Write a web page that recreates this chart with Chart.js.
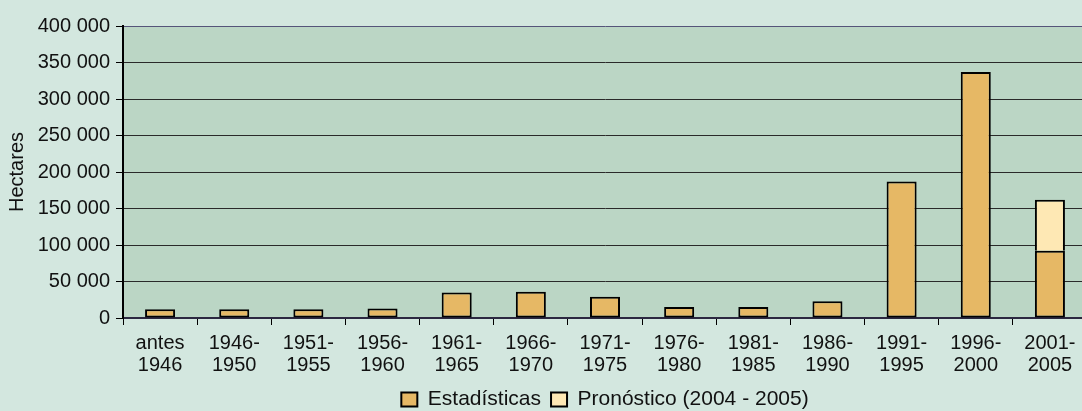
<!DOCTYPE html>
<html>
<head>
<meta charset="utf-8">
<script src="https://cdn.jsdelivr.net/npm/chart.js@4.4.1/dist/chart.umd.min.js"></script>
<style>
  html, body { margin: 0; padding: 0; background: #d3e7df; overflow: hidden; }
  #wrap { width: 1090px; height: 411px; }
</style>
</head>
<body>
<div id="wrap"><canvas id="chart" width="1090" height="411"></canvas></div>
<script>
/* Data (hectares per period) */
const periods = [
  ['antes', '1946'], ['1946-', '1950'], ['1951-', '1955'], ['1956-', '1960'],
  ['1961-', '1965'], ['1966-', '1970'], ['1971-', '1975'], ['1976-', '1980'],
  ['1981-', '1985'], ['1986-', '1990'], ['1991-', '1995'], ['1996-', '2000'],
  ['2001-', '2005'],
];
const estadisticas = [12000, 12000, 12000, 13000, 35000, 36000, 29000, 15000, 15000, 23000, 187000, 337000, 92000];
const pronostico = [null, null, null, null, null, null, null, null, null, null, null, null, 70000];
const yTicks = [0, 50000, 100000, 150000, 200000, 250000, 300000, 350000, 400000];

const COLORS = {
  page: '#d3e7df',
  plot: '#bbd6c5',
  stats: '#e6b865',
  forecast: '#fee8b4',
  edge: '#000000',
  grid: '#2a2a2a',
};

const FONT = { family: '"Liberation Sans", Arial, sans-serif', size: 20 };

// fill the plot area behind the bars
const plotBackground = {
  id: 'plotBackground',
  beforeDraw(chart) {
    const { ctx, chartArea: a } = chart;
    ctx.save();
    ctx.fillStyle = COLORS.plot;
    ctx.fillRect(a.left, a.top, a.right - a.left, a.bottom - a.top);
    ctx.restore();
  },
};

function spaced(v) {
  return String(v).replace(/\B(?=(\d{3})+(?!\d))/g, ' ');
}

new Chart(document.getElementById('chart'), {
  type: 'bar',
  data: {
    labels: periods,
    datasets: [
      {
        label: 'Estadísticas',
        data: estadisticas,
        backgroundColor: COLORS.stats,
        borderColor: COLORS.edge,
        borderWidth: 2,
        borderSkipped: false,
      },
      {
        label: 'Pronóstico (2004 - 2005)',
        data: pronostico,
        backgroundColor: COLORS.forecast,
        borderColor: COLORS.edge,
        borderWidth: 2,
        borderSkipped: 'start',
      },
    ],
  },
  options: {
    responsive: false,
    animation: false,
    layout: { padding: { top: 26, right: 3, left: 0, bottom: -9 } },
    datasets: { bar: { barPercentage: 0.405, categoryPercentage: 1 } },
    font: FONT,
    color: '#111',
    scales: {
      x: {
        stacked: true,
        grid: { drawOnChartArea: false, tickLength: 7, tickColor: '#000', offset: true },
        border: { color: '#2b2840', width: 2 },
        ticks: { color: '#111', font: { ...FONT, lineHeight: 1.1 }, padding: 7, maxRotation: 0, autoSkip: false },
        afterFit(scale) { scale.height = 61; },
      },
      y: {
        stacked: true,
        min: 0,
        max: 400000,
        afterBuildTicks(scale) { scale.ticks = yTicks.map(v => ({ value: v })); },
        grid: {
          color: ctx => (ctx.tick && ctx.tick.value === 400000 ? '#55557a' : COLORS.grid),
          lineWidth: 1,
          tickLength: 7,
          tickColor: '#000',
        },
        border: { color: '#000', width: 2 },
        ticks: { color: '#111', font: FONT, padding: 6, callback: v => spaced(v) },
        title: { display: true, text: 'Hectares', color: '#111', font: FONT, padding: { top: 5, bottom: 0 } },
        afterFit(scale) { scale.width = 123; },
      },
    },
    plugins: {
      legend: {
        position: 'bottom',
        fullSize: false,
        labels: { color: '#111', font: { ...FONT, size: 21 }, boxWidth: 16, boxHeight: 14, padding: 10 },
      },
      tooltip: { enabled: false },
    },
  },
  plugins: [plotBackground],
});
</script>
</body>
</html>
